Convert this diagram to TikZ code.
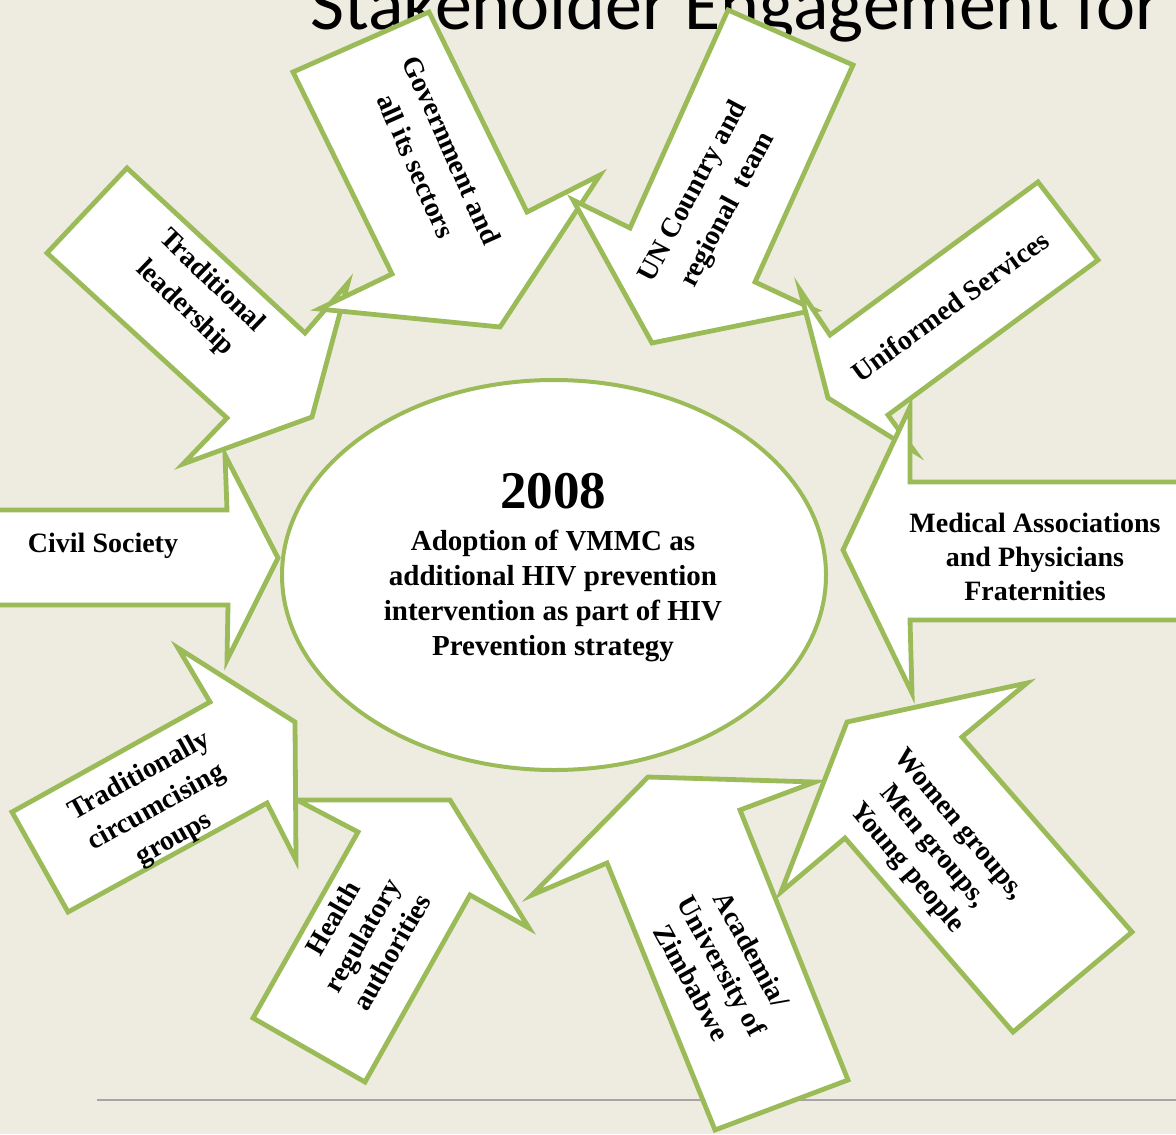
\documentclass[tikz,border=0pt]{standalone}
\usepackage{fontspec}
\setmainfont{Liberation Serif}
\newfontfamily\titlefont{Carlito}
\usetikzlibrary{shapes.geometric}
\definecolor{slidebg}{HTML}{EEECE1}
\definecolor{accentgreen}{HTML}{9BBB59}
\definecolor{rulegray}{HTML}{A5A5A5}

\begin{document}
\begin{tikzpicture}[x=0.5pt,y=-0.5pt,
  arrowbox/.style={draw=accentgreen, fill=white, line width=2.4pt, line join=miter},
  hub/.style={ellipse, draw=accentgreen, fill=white, line width=2pt,
    minimum width=272pt, minimum height=195pt, inner sep=0pt},
  lbl/.style={font=\fontsize{14}{17}\selectfont\bfseries, align=center,
    inner sep=0pt, text=black},
  widelbl/.style={lbl, font=\fontsize{14}{19.5}\selectfont\bfseries},
  hubtext/.style={font=\fontsize{14.5}{17.5}\selectfont\bfseries, align=center,
    inner sep=0pt, text=black},
]
\useasboundingbox (0,0) rectangle (1176,1134);
\clip (0,0) rectangle (1176,1134);
\fill[slidebg] (0,0) rectangle (1176,1134);

% slide title (partly above the page edge)
\node[anchor=base west, inner sep=0pt, font=\titlefont\fontsize{37}{40}\selectfont]
  (title) at (310,30) {Stakeholder Engagement for};

% footer rule
\coordinate (ruleL) at (97,1100);
\coordinate (ruleR) at (1176,1100);
\draw[rulegray, line width=1pt] (ruleL) -- (ruleR);

% central ellipse
\node[hub] (hub) at (554,575) {};
\node[anchor=base, inner sep=0pt, font=\fontsize{26.5}{30}\selectfont\bfseries]
  (year) at (553,508) {2008};
\node[hubtext] (goal) at (553,596)
  {Adoption of VMMC as\\additional HIV prevention\\intervention as part of HIV\\Prevention strategy};

% Civil Society (pointing right)
\draw[arrowbox] (-10,510) -- (227,510) -- (225,455) -- (278,558) -- (227,660)
  -- (228,605) -- (-10,605) -- cycle;
\node[lbl, anchor=base] (civil) at (103,552) {Civil Society};

% Traditional leadership
\draw[arrowbox] (127,168) -- (305,333) -- (348,283) -- (312,417) -- (183,464)
  -- (227,418) -- (47,253) -- cycle;
\node[lbl, font=\fontsize{14}{19}\selectfont\bfseries, rotate=-44] (tradlead)
  at (198,295) {Traditional\\leadership};

% Government and all its sectors
\draw[arrowbox] (293,72) -- (429,12) -- (527,212) -- (600,175) -- (500,327)
  -- (319,309) -- (392,274) -- cycle;
\node[widelbl, rotate=-66] (gov) at (434,158) {Government and\\all its sectors};

% UN Country and regional team
\draw[arrowbox] (728,10) -- (853,65) -- (755,282) -- (815,310) -- (652,343)
  -- (573,200) -- (630,228) -- cycle;
\node[widelbl, rotate=62] (un) at (711,201) {UN Country and\\regional\ \ team};

% Uniformed Services
\draw[arrowbox] (1038,182) -- (1098,260) -- (888,415) -- (915,452) -- (828,398)
  -- (800,290) -- (830,335) -- cycle;
\node[lbl, rotate=36] (uniformed) at (950,306) {Uniformed Services};

% Medical Associations (pointing left)
\draw[arrowbox] (1190,482) -- (910,482) -- (910,407) -- (843,550) -- (912,693)
  -- (910,620) -- (1190,620) -- cycle;
\node[lbl] (medical) at (1035,557) {Medical Associations\\and Physicians\\Fraternities};

% Women groups, Men groups, Young people
\draw[arrowbox] (1132,932) -- (962,737) -- (1027,683) -- (847,722) -- (781,892)
  -- (845,838) -- (1013,1032) -- cycle;
\node[lbl, rotate=-50] (women) at (932,847) {Women groups,\\Men groups,\\Young people};

% Academia / University of Zimbabwe
\draw[arrowbox] (715,1130) -- (607,863) -- (532,895) -- (648,777) -- (815,782)
  -- (740,810) -- (848,1080) -- cycle;
\node[lbl, rotate=-61] (academia) at (722,966) {Academia/\\University of\\Zimbabwe};

% Health regulatory authorities
\draw[arrowbox] (253,1018) -- (358,832) -- (297,800) -- (450,800) -- (529,928)
  -- (470,895) -- (365,1082) -- cycle;
\node[lbl, rotate=60] (health) at (362,935) {Health\\regulatory\\authorities};

% Traditionally circumcising groups
\draw[arrowbox] (12,812) -- (210,702) -- (178,648) -- (295,722) -- (296,860)
  -- (267,803) -- (68,912) -- cycle;
\node[lbl, font=\fontsize{14}{18}\selectfont\bfseries, rotate=29] (tradcirc)
  at (157,808) {Traditionally\\circumcising\\groups};
\end{tikzpicture}
\end{document}
